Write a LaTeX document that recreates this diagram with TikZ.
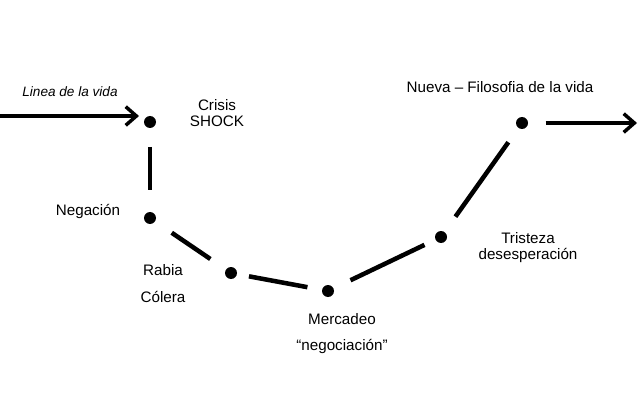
\documentclass[tikz,border=0pt]{standalone}
\usepackage{fontspec}
\setmainfont{Liberation Sans}
\usetikzlibrary{arrows.meta}

\tikzset{
  dot/.style={circle,fill=black,inner sep=0pt,minimum size=9pt},
  seg/.style={line width=3.4pt,shorten <=12pt,shorten >=12pt},
  flecha/.style={line width=3.4pt,-{Straight Barb[length=8pt,width=14pt,line width=2.6pt]}},
  lbl/.style={inner sep=0.75pt,align=center,font=\fontsize{11.4}{12}\selectfont}
}

\begin{document}
\begin{tikzpicture}[x=0.75pt,y=0.75pt,yscale=-1,xscale=1]
\useasboundingbox (0,0) rectangle (640,403);

% Dots
\node [dot] (crisis) at (150,122) {};
\node [dot] (negacion) at (150,218) {};
\node [dot] (rabia) at (231,273) {};
\node [dot] (mercadeo) at (328,291) {};
\node [dot] (tristeza) at (441,237) {};
\node [dot] (nueva) at (522,123) {};

% Arrow ends
\coordinate (inicio) at (0,116);
\coordinate (llegada) at (139,116);
\coordinate (fin) at (637,123);

%Arrows
\draw [flecha] (inicio) -- (llegada);
\draw [flecha,shorten <=13pt] (nueva) -- (fin);

%Straight Lines
\draw [seg,shorten <=14pt,shorten >=16pt] (crisis) -- (negacion);
\draw [seg,shorten <=15pt,shorten >=14pt] (negacion) -- (rabia);
\draw [seg,shorten <=9pt,shorten >=11pt] (rabia) -- (mercadeo);
\draw [seg,shorten <=14pt,shorten >=9pt] (mercadeo) -- (tristeza);
\draw [seg,shorten <=14pt,shorten >=13pt] (tristeza) -- (nueva);

% Text Node
\node [lbl,font=\fontsize{10.2}{12}\selectfont\itshape] (tvida) at (70,92) {Linea de la vida};
% Text Node
\node [lbl] (tcrisis) at (217,113) {Crisis\\SHOCK};
% Text Node
\node [lbl] (tnegacion) at (88,211) {Negación};
% Text Node
\node [lbl] (trabia) at (163,270) {Rabia};
% Text Node
\node [lbl] (tcolera) at (163,297) {Cólera};
% Text Node
\node [lbl] (tmercadeo) at (342,319) {Mercadeo};
% Text Node
\node [lbl] (tnegociacion) at (342,346) {“negociación”};
% Text Node
\node [lbl] (ttristeza) at (528,248) {Tristeza\\desesperación};
% Text Node
\node [lbl] (tnueva) at (500,87) {Nueva – Filosofia de la vida};

\end{tikzpicture}
\end{document}
